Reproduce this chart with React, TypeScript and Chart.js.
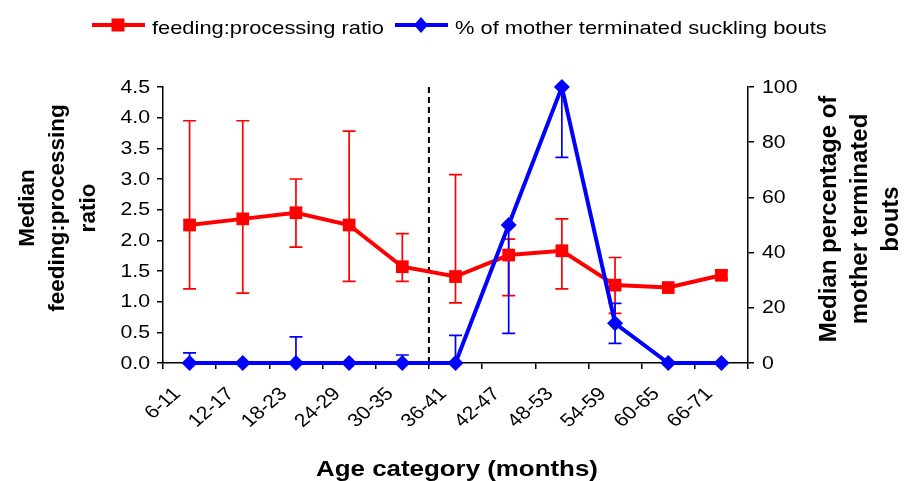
import React, { useEffect, useRef } from "react";
import { Chart, registerables } from "chart.js";

Chart.register(...registerables);

const categories = ["6-11", "12-17", "18-23", "24-29", "30-35", "36-41", "42-47", "48-53", "54-59", "60-65", "66-71"];
const ratioValues = [2.25, 2.35, 2.45, 2.25, 1.57, 1.41, 1.76, 1.83, 1.27, 1.23, 1.43];
const ratioLow = [1.21, 1.14, 1.89, 1.33, 1.33, 0.98, 1.1, 1.21, 0.81, 1.23, 1.37];
const ratioHigh = [3.95, 3.95, 3.0, 3.78, 2.11, 3.07, 2.02, 2.35, 1.72, 1.23, 1.51];
const motherValues = [0, 0, 0, 0, 0, 0, 50, 100, 14.4, 0, 0];
const motherLow = [0, 0, 0, 0, 0, 0, 10.7, 74.5, 7.1, 0, 0];
const motherHigh = [3.7, 0, 9.5, 0, 2.9, 10, 50, 100, 21.6, 0, 0];
const leftTicks = [0, 0.5, 1, 1.5, 2, 2.5, 3, 3.5, 4, 4.5];
const rightTicks = [0, 20, 40, 60, 80, 100];

const FONT = "'Liberation Sans', Arial, sans-serif";
const SX = 1.15;

function stretchedText(ctx: any, text: string, x: number, y: number, font: string, align: string, baseline: string, angle = 0, sx = SX) {
  ctx.save();
  ctx.translate(x, y);
  ctx.scale(sx, 1);
  if (angle) ctx.rotate(angle);
  ctx.font = font;
  ctx.textAlign = align;
  ctx.textBaseline = baseline;
  ctx.fillText(text, 0, 0);
  ctx.restore();
}

const overlayPlugin = {
  id: "overlay",
  beforeDatasetsDraw(chart: any) {
    const ctx = chart.ctx;
    const x = chart.scales.x;
    const yL = chart.scales.yL;
    const yR = chart.scales.yR;
    const area = chart.chartArea;
    ctx.save();
    const xd = (x.getPixelForValue(4) + x.getPixelForValue(5)) / 2;
    ctx.strokeStyle = "#000";
    ctx.lineWidth = 2;
    ctx.setLineDash([6, 4]);
    ctx.beginPath();
    ctx.moveTo(xd, area.top);
    ctx.lineTo(xd, area.bottom);
    ctx.stroke();
    ctx.setLineDash([]);
    const cap = 6.5;
    const drawBars = (low: number[], high: number[], scale: any, color: string) => {
      ctx.strokeStyle = color;
      ctx.lineWidth = 1.7;
      for (let i = 0; i < categories.length; i++) {
        if (low[i] === high[i]) continue;
        const px = x.getPixelForValue(i);
        const y1 = scale.getPixelForValue(low[i]);
        const y2 = scale.getPixelForValue(high[i]);
        ctx.beginPath();
        ctx.moveTo(px, y1);
        ctx.lineTo(px, y2);
        ctx.moveTo(px - cap, y1);
        ctx.lineTo(px + cap, y1);
        ctx.moveTo(px - cap, y2);
        ctx.lineTo(px + cap, y2);
        ctx.stroke();
      }
    };
    drawBars(ratioLow, ratioHigh, yL, "#ff0000");
    drawBars(motherLow, motherHigh, yR, "#0000ff");
    ctx.restore();
  },
  afterDraw(chart: any) {
    const ctx = chart.ctx;
    const x = chart.scales.x;
    const yL = chart.scales.yL;
    const yR = chart.scales.yR;
    const area = chart.chartArea;
    ctx.save();
    ctx.fillStyle = "#000";
    const tickFont = `18.5px ${FONT}`;
    leftTicks.forEach((v) => {
      stretchedText(ctx, v.toFixed(1), 150, yL.getPixelForValue(v) + 0.5, tickFont, "right", "middle");
    });
    rightTicks.forEach((v) => {
      stretchedText(ctx, String(v), 762, yR.getPixelForValue(v) + 0.5, tickFont, "left", "middle");
    });
    categories.forEach((c, i) => {
      const px = x.getPixelForValue(i);
      stretchedText(ctx, c, px - 12, area.bottom + 28, tickFont, "right", "middle", -Math.PI / 4);
    });
    const titleFont = `bold 22.5px ${FONT}`;
    const vlines = (lines: string[], xs: number[], cy: number, font: string) => {
      lines.forEach((t, i) => stretchedText(ctx, t, xs[i], cy, font, "center", "middle", -Math.PI / 2, 1));
    };
    vlines(["Median", "feeding:processing", "ratio"], [28, 58, 89], 208, titleFont);
    vlines(["Median percentage of", "mother terminated", "bouts"], [829, 860, 891], 219, `bold 24px ${FONT}`);
    stretchedText(ctx, "Age category (months)", 457, 476, titleFont, "center", "alphabetic");
    const ly = 25;
    ctx.lineWidth = 4;
    ctx.strokeStyle = "#ff0000";
    ctx.beginPath();
    ctx.moveTo(92, ly);
    ctx.lineTo(145, ly);
    ctx.stroke();
    ctx.fillStyle = "#ff0000";
    ctx.fillRect(118 - 6.5, ly - 6.5, 13, 13);
    ctx.strokeStyle = "#0000ff";
    ctx.beginPath();
    ctx.moveTo(395, ly);
    ctx.lineTo(448, ly);
    ctx.stroke();
    ctx.fillStyle = "#0000ff";
    ctx.beginPath();
    ctx.moveTo(421, ly - 8);
    ctx.lineTo(421 + 7, ly);
    ctx.lineTo(421, ly + 8);
    ctx.lineTo(421 - 7, ly);
    ctx.closePath();
    ctx.fill();
    ctx.fillStyle = "#000";
    const legFont = `19px ${FONT}`;
    stretchedText(ctx, "feeding:processing ratio", 152, 33.5, legFont, "left", "alphabetic");
    stretchedText(ctx, "% of mother terminated suckling bouts", 455, 33.5, legFont, "left", "alphabetic");
    ctx.restore();
  },
};

export default function App() {
  const ref = useRef<HTMLCanvasElement | null>(null);
  useEffect(() => {
    document.body.style.margin = "0";
    const canvas = ref.current;
    if (!canvas) return;
    const axisGrid = { drawOnChartArea: false, drawTicks: true, tickLength: 6, color: "#000", tickColor: "#000", lineWidth: 1.5 };
    const chart = new Chart(canvas, {
      type: "line",
      data: {
        labels: categories,
        datasets: [
          {
            label: "feeding:processing ratio",
            data: ratioValues,
            yAxisID: "yL",
            borderColor: "#ff0000",
            backgroundColor: "#ff0000",
            borderWidth: 4,
            pointStyle: "rect",
            pointRadius: 9,
            pointBorderWidth: 0,
            tension: 0,
            order: 2,
          },
          {
            label: "% of mother terminated suckling bouts",
            data: motherValues,
            yAxisID: "yR",
            borderColor: "#0000ff",
            backgroundColor: "#0000ff",
            borderWidth: 4,
            pointStyle: "rectRot",
            pointRadius: 8,
            pointBorderWidth: 0,
            tension: 0,
            clip: false as any,
            order: 1,
          },
        ],
      },
      options: {
        responsive: false,
        animation: false,
        layout: { padding: { top: 87, left: 0, right: 0, bottom: 0 } },
        plugins: { legend: { display: false }, tooltip: { enabled: false } },
        scales: {
          x: {
            type: "category",
            offset: true,
            grid: { ...axisGrid, offset: true },
            border: { color: "#000", width: 1.5 },
            ticks: { display: false, autoSkip: false },
            afterFit(scale: any) {
              scale.height = 118;
            },
          },
          yL: {
            type: "linear",
            position: "left",
            min: 0,
            max: 4.5,
            afterBuildTicks(scale: any) {
              scale.ticks = leftTicks.map((v) => ({ value: v }));
            },
            grid: axisGrid,
            border: { color: "#000", width: 1.5 },
            ticks: { display: false },
            afterFit(scale: any) {
              scale.width = 163;
            },
          },
          yR: {
            type: "linear",
            position: "right",
            min: 0,
            max: 100,
            afterBuildTicks(scale: any) {
              scale.ticks = rightTicks.map((v) => ({ value: v }));
            },
            grid: axisGrid,
            border: { color: "#000", width: 1.5 },
            ticks: { display: false },
            afterFit(scale: any) {
              scale.width = 156;
            },
          },
        },
      },
      plugins: [overlayPlugin],
    });
    return () => chart.destroy();
  }, []);
  return (
    <div style={{ width: 904, height: 481, background: "#fff" }}>
      <canvas ref={ref} width={904} height={481} style={{ display: "block" }} />
    </div>
  );
}
